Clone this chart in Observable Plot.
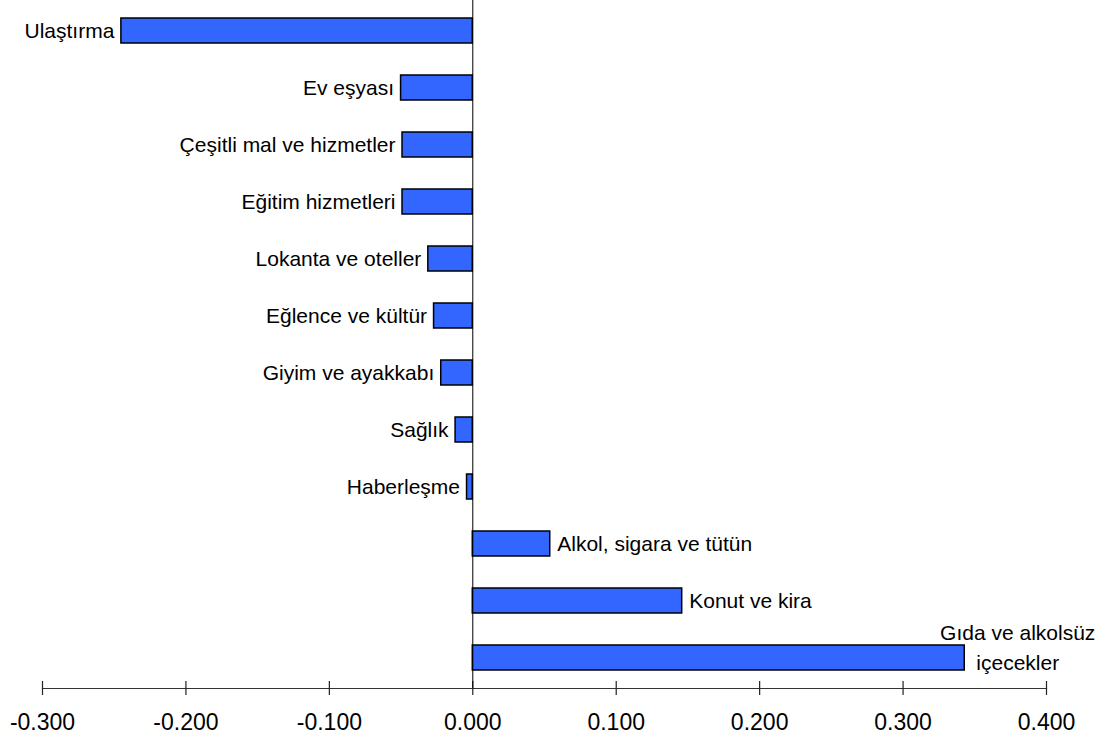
<!DOCTYPE html>
<html>
<head>
<meta charset="utf-8">
<script src="https://cdn.jsdelivr.net/npm/d3@7"></script>
<script src="https://cdn.jsdelivr.net/npm/@observablehq/plot@0.6"></script>
<style>
  html, body { margin: 0; padding: 0; background: #fff; }
  #chart svg { display: block; }
</style>
</head>
<body>
<div id="chart"></div>
<script>
const categories = [
  "Ulaştırma", "Ev eşyası", "Çeşitli mal ve hizmetler", "Eğitim hizmetleri",
  "Lokanta ve oteller", "Eğlence ve kültür", "Giyim ve ayakkabı", "Sağlık",
  "Haberleşme", "Alkol, sigara ve tütün", "Konut ve kira", "Gıda ve alkolsüz içecekler"
];
const values = [-0.245, -0.050, -0.049, -0.049, -0.031, -0.027, -0.022, -0.012, -0.004, 0.054, 0.146, 0.343];
const labels = [
  "Ulaştırma", "Ev eşyası", "Çeşitli mal ve hizmetler", "Eğitim hizmetleri",
  "Lokanta ve oteller", "Eğlence ve kültür", "Giyim ve ayakkabı", "Sağlık",
  "Haberleşme", "Alkol, sigara ve tütün", "Konut ve kira", "Gıda ve alkolsüz\niçecekler"
];
const xTicks = [-0.3, -0.2, -0.1, 0, 0.1, 0.2, 0.3, 0.4];

const data = categories.map((c, i) => ({category: c, value: values[i], label: labels[i]}));
const negData = data.filter(d => d.value < 0);
const posData = data.filter(d => d.value >= 0 && !d.label.includes("\n"));
const wrapData = data.filter(d => d.label.includes("\n"));

const font = "'Liberation Sans', Arial, sans-serif";
const fmt = d => d3.format(".3f")(d).replace("\u2212", "-");

const chart = Plot.plot({
  width: 1103,
  height: 742,
  marginLeft: 42,
  marginRight: 57,
  marginTop: 0,
  marginBottom: 54,
  style: {fontFamily: font, background: "#fff", color: "#000"},
  x: {domain: [-0.3, 0.4], axis: null},
  y: {domain: categories, axis: null, paddingInner: 0.56, paddingOuter: 0.28},
  marks: [
    Plot.frame({anchor: "bottom", stroke: "#333", strokeWidth: 1.2}),
    Plot.axisX({ticks: xTicks, tickSize: 14, dy: -7, tickFormat: () => "", stroke: "#222", strokeWidth: 1.2, label: null}),
    Plot.axisX({ticks: xTicks, tickSize: 0, tickPadding: 25, tickFormat: fmt, fontSize: 23, fill: "#000", label: null}),
    Plot.barX(data, {x: "value", y: "category", fill: "#3366FF", stroke: "#000", strokeWidth: 1.5}),
    Plot.ruleX([0], {stroke: "#000", strokeWidth: 1}),
    Plot.text(negData, {x: "value", y: "category", text: "label", textAnchor: "end", dx: -7, fontSize: 21, fill: "#000"}),
    Plot.text(posData, {x: "value", y: "category", text: "label", textAnchor: "start", dx: 7, fontSize: 21, fill: "#000"}),
    Plot.text(wrapData, {x: "value", y: "category", text: "label", textAnchor: "middle", dx: 53, dy: -13, lineHeight: 1.45, fontSize: 21, fill: "#000"})
  ]
});
document.getElementById("chart").appendChild(chart);
</script>
</body>
</html>
